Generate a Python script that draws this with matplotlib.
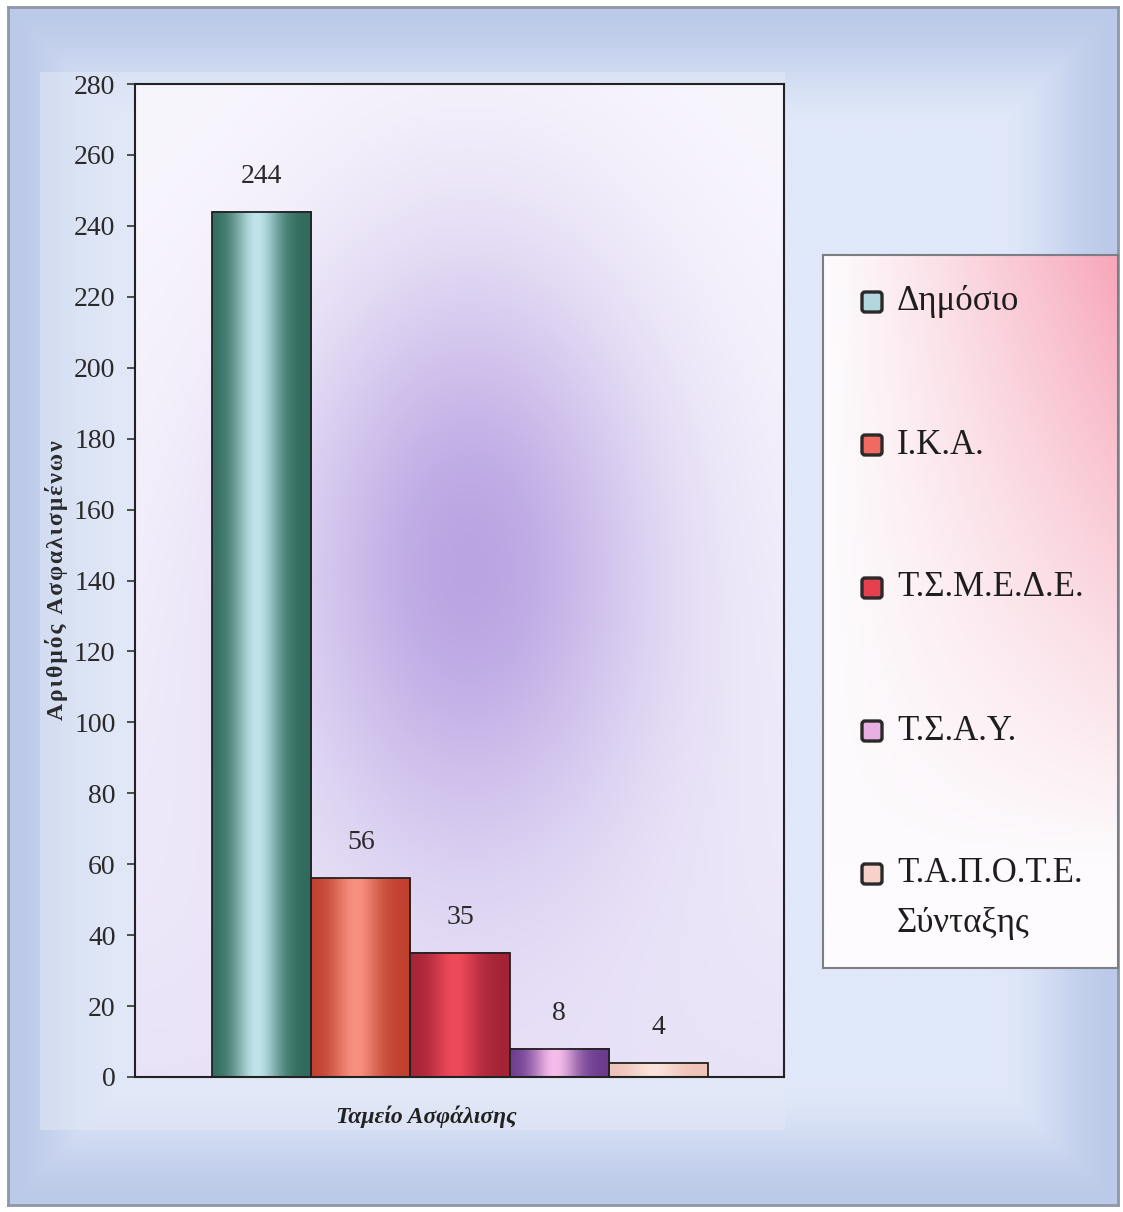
import numpy as np
import matplotlib
matplotlib.use("Agg")
import matplotlib.pyplot as plt
from matplotlib.colors import to_rgb
from matplotlib.patches import Rectangle, FancyBboxPatch

plt.rcParams['font.family'] = ['Liberation Serif', 'DejaVu Serif']

# data
funds = ['Δημόσιο', 'Ι.Κ.Α.', 'Τ.Σ.Μ.Ε.Δ.Ε.', 'Τ.Σ.Α.Υ.', 'Τ.Α.Π.Ο.Τ.Ε.\nΣύνταξης']
insured = [244, 56, 35, 8, 4]
yticks = list(range(0, 281, 20))

# bar shading: colour at the bar edges / in the highlight, and legend key fill
edge_cols = ['#2f6a5c', '#c0402e', '#a32436', '#6b3a8e', '#efc2b8']
mid_cols = ['#bfe4ea', '#f89080', '#ee4a5a', '#f6bdea', '#fbe2da']
key_cols = ['#b4d6de', '#f06a62', '#e6404e', '#e8b0e2', '#f8d2ca']

W, H = 1123, 1212
fig = plt.figure(figsize=(W / 100, H / 100), dpi=100)
fig.patch.set_facecolor('white')


def fx(px): return px / W
def fy(py): return 1 - py / H


def mix(c1, c2, w):
    c1, c2 = np.array(to_rgb(c1)), np.array(to_rgb(c2))
    return c1 + (c2 - c1) * w[..., None]


# ---- outer frame with bluish gradient
bg = fig.add_axes([fx(8), fy(1205), 1110 / W, 1198 / H], zorder=-10)
yy, xx = np.mgrid[0:1:300j, 0:1:300j]
d = np.minimum(np.minimum(xx, 1 - xx) * 1110, np.minimum(yy, 1 - yy) * 1198)
w = np.clip(d / 120, 0, 1)
w = w * w * (3 - 2 * w)
bg.imshow(mix('#bccae9', '#e0e8f9', w), extent=[0, 1110, 1198, 0], aspect='auto',
          interpolation='bicubic')
bg.add_patch(Rectangle((32, 65), 745, 1058, facecolor='#e2e8f6', alpha=0.55,
                       edgecolor='none'))
bg.set_xlim(0, 1110)
bg.set_ylim(1198, 0)
bg.set_xticks([])
bg.set_yticks([])
for s in bg.spines.values():
    s.set_color('#8e97a8')
    s.set_linewidth(2)

# ---- main plot
ax = fig.add_axes([fx(135), fy(1077), (784 - 135) / W, (1077 - 84) / H])
x = np.arange(len(funds))
xlim = (-1.276, len(funds) - 1 + 1.266)

# plot area background: light lavender with a purple glow in the middle
gy, gx = np.mgrid[0:993:300j, 0:649:200j]
base = mix('#f8f6fd', '#e9e3f8', (gy / 993) ** 1.5)
glow = 0.9 * np.exp(-((gx - 335) / 185) ** 2 - ((gy - 480) / 300) ** 2)
img = base + (np.array(to_rgb('#b49ce0')) - base) * glow[..., None]
ax.imshow(img, extent=[xlim[0], xlim[1], 0, 280], aspect='auto', zorder=0,
          interpolation='bicubic')

bars = ax.bar(x, insured, width=1.0, facecolor='none', edgecolor='#222222',
              linewidth=1.3, zorder=3)
t = np.linspace(0, 1, 80)
prof = np.exp(-((t - 0.45) / 0.24) ** 2)
for xi, v, ec, mc in zip(x, insured, edge_cols, mid_cols):
    strip = mix(ec, mc, prof)[None, :, :]
    ax.imshow(strip, extent=[xi - 0.5, xi + 0.5, 0, v], aspect='auto', zorder=2,
              interpolation='bicubic')
    ax.text(xi, v + 10, str(v), ha='center', va='center', fontsize=20,
            color='#2a2a2a', zorder=4)

ax.set_xlim(*xlim)
ax.set_ylim(0, 280)
ax.set_yticks(yticks)
ax.set_xticks([])
ax.tick_params(axis='y', labelsize=20, labelcolor='#2a2a2a', length=6, width=1.2,
               direction='out', pad=8, color='#333333')
for s in ax.spines.values():
    s.set_color('#222222')
    s.set_linewidth(1.5)

fig.text(fx(57), fy(580), '\u200a'.join('Αριθμός Ασφαλισμένων'), rotation=90,
         ha='center', va='center', fontsize=17, fontweight='bold', color='#2a2a2a')
fig.text(fx(426), fy(1117), 'Ταμείο Ασφάλισης', ha='center', va='center',
         fontsize=17, fontweight='bold', fontstyle='italic', color='#222222')

# ---- legend box with pink gradient
lg = fig.add_axes([fx(823), fy(968), 295 / W, 713 / H], zorder=5)
ly, lx = np.mgrid[0:1:200j, 0:1:120j]
pink = np.clip(lx ** 1.2 * (1 - ly / 0.85), 0, 1) * 0.95
lg.imshow(mix('#fdfbfd', '#f7a2b6', pink), extent=[0, 295, 713, 0], aspect='auto',
          interpolation='bicubic')
lg.set_xlim(0, 295)
lg.set_ylim(713, 0)
lg.set_xticks([])
lg.set_yticks([])
for s in lg.spines.values():
    s.set_color('#7d7d85')
    s.set_linewidth(1.5)

for i, (name, kc) in enumerate(zip(funds, key_cols)):
    yc = 47 + i * 143
    lg.add_patch(FancyBboxPatch((39, yc - 10), 20, 20,
                                boxstyle='round,pad=0,rounding_size=3',
                                facecolor=kc, edgecolor='#2a2a2a', linewidth=2.4))
    for j, line in enumerate(name.split('\n')):
        lg.text(74, yc + j * 50, line, ha='left', va='center', fontsize=25,
                color='#1e1e1e')

fig.savefig('out.png', dpi=100)
